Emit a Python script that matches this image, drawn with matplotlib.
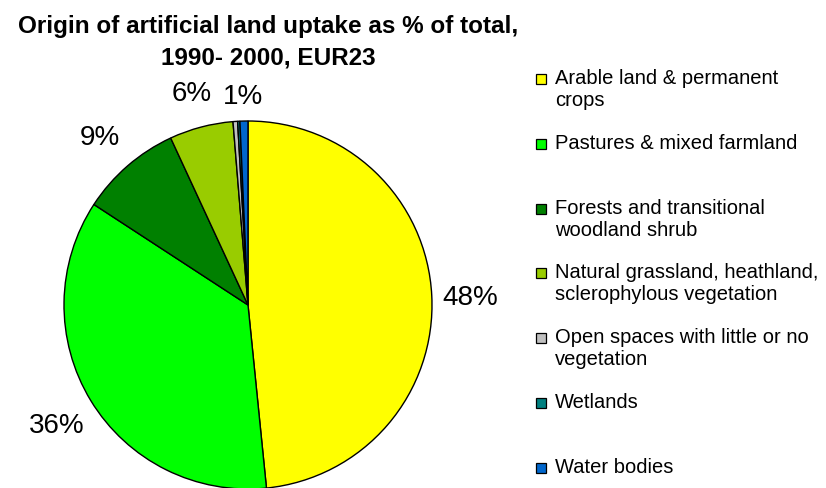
import numpy as np
import matplotlib
matplotlib.use("Agg")
import matplotlib.pyplot as plt
from matplotlib.patches import Rectangle
from matplotlib.transforms import ScaledTranslation

plt.rcParams['font.family'] = ['Liberation Sans', 'DejaVu Sans']

categories = [
    "Arable land & permanent\ncrops",
    "Pastures & mixed farmland",
    "Forests and transitional\nwoodland shrub",
    "Natural grassland, heathland,\nsclerophylous vegetation",
    "Open spaces with little or no\nvegetation",
    "Wetlands",
    "Water bodies",
]
shares = [48.4, 35.8, 8.9, 5.6, 0.4, 0.2, 0.7]
colors = ["#FFFF00", "#00FF00", "#008000", "#99CC00", "#C0C0C0", "#008080", "#0066CC"]
title = "Origin of artificial land uptake as % of total,\n1990- 2000, EUR23"

# radial distance of each percentage label (in pie radii)
label_dist = [1.21, 1.22, 1.23, 1.21, 1.15, 1.15, 1.15]

W, H, DPI = 826, 489, 100
fig = plt.figure(figsize=(W / DPI, H / DPI), dpi=DPI)

# pie axes: centre and radius in pixels
cx, cy, r = 248, 306, 184
ax = fig.add_axes([(cx - r) / W, (H - cy - r) / H, 2 * r / W, 2 * r / H])

wedges, _ = ax.pie(
    shares, colors=colors, startangle=90, counterclock=False,
    wedgeprops=dict(edgecolor="black", linewidth=1.0),
)
total = sum(shares)
nudge = ax.transData + ScaledTranslation(0, -3 / DPI, fig.dpi_scale_trans)
for w, v, d in zip(wedges, shares, label_dist):
    pct = 100 * v / total
    if pct < 0.5:
        continue
    mid = np.deg2rad((w.theta1 + w.theta2) / 2)
    ax.text(d * np.cos(mid), d * np.sin(mid), f"{pct:.0f}%",
            ha="center", va="center", fontsize=20, clip_on=False,
            transform=nudge)
ax.set_xlim(-1, 1)
ax.set_ylim(-1, 1)
ax.set_aspect("equal")
ax.axis("off")

fig.text(268 / W, 1 - 15 / H, title, ha="center", va="top",
         fontsize=17.5, fontweight="bold", linespacing=1.5)

# legend, one equally spaced slot per category
top_y, step = 80, 64.8
for i, (lab, col) in enumerate(zip(categories, colors)):
    y = top_y + i * step
    fig.patches.append(Rectangle((536 / W, 1 - (y + 5) / H), 10 / W, 10 / H,
                                 transform=fig.transFigure, facecolor=col,
                                 edgecolor="black", linewidth=0.9))
    fig.text(555 / W, 1 - (y - 11) / H, lab, ha="left", va="top",
             fontsize=14.5, linespacing=1.2)

fig.savefig("out.png", dpi=DPI)
